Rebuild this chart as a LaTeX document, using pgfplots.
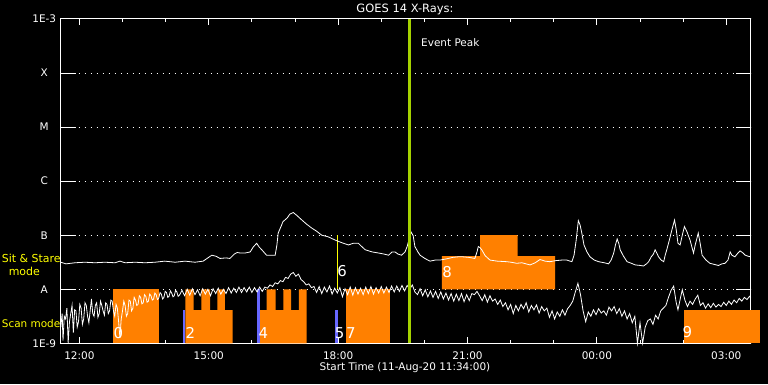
\documentclass[border=0pt]{standalone}
\usepackage{pgfplots}
\pgfplotsset{compat=1.18}
\usepackage{fontspec}
\setmainfont{DejaVu Sans}
\definecolor{scanorange}{RGB}{255,128,0}
\definecolor{bluemark}{RGB}{104,104,255}
\definecolor{peakgreen}{RGB}{165,210,0}
\definecolor{labyellow}{RGB}{255,255,0}

\pgfplotstableread{
x y
11.567 -7.50
11.69 -7.53
11.90 -7.51
12.13 -7.50
12.36 -7.51
12.59 -7.50
12.83 -7.51
12.94 -7.48
13.06 -7.51
13.29 -7.50
13.52 -7.51
13.75 -7.50
13.98 -7.48
14.22 -7.50
14.45 -7.48
14.68 -7.50
14.87 -7.48
14.96 -7.43
15.07 -7.37
15.17 -7.39
15.26 -7.43
15.40 -7.42
15.49 -7.43
15.59 -7.35
15.66 -7.32
15.73 -7.33
15.84 -7.33
15.96 -7.31
16.03 -7.22
16.11 -7.15
16.17 -7.22
16.23 -7.27
16.34 -7.37
16.44 -7.37
16.54 -7.37
16.58 -7.18
16.61 -6.96
16.68 -6.83
16.72 -6.75
16.82 -6.68
16.88 -6.61
16.96 -6.58
17.05 -6.64
17.16 -6.72
17.26 -6.79
17.39 -6.87
17.49 -6.92
17.62 -7.00
17.77 -7.03
17.93 -7.09
18.09 -7.14
18.24 -7.18
18.35 -7.15
18.47 -7.15
18.56 -7.22
18.63 -7.27
18.79 -7.31
18.94 -7.33
19.07 -7.35
19.17 -7.37
19.25 -7.31
19.32 -7.31
19.39 -7.35
19.47 -7.37
19.55 -7.31
19.60 -7.21
19.64 -7.09
19.69 -6.94
19.74 -7.01
19.78 -7.21
19.85 -7.31
19.90 -7.37
20.01 -7.43
20.13 -7.48
20.25 -7.46
20.36 -7.46
20.50 -7.44
20.66 -7.41
20.78 -7.40
20.89 -7.40
21.03 -7.41
21.17 -7.43
21.22 -7.31
21.25 -7.21
21.29 -7.23
21.33 -7.27
21.41 -7.38
21.52 -7.46
21.69 -7.48
21.91 -7.49
22.01 -7.50
22.14 -7.52
22.26 -7.51
22.45 -7.55
22.57 -7.51
22.68 -7.45
22.80 -7.48
22.91 -7.49
23.05 -7.47
23.19 -7.46
23.30 -7.46
23.42 -7.49
23.47 -7.37
23.52 -7.09
23.57 -6.73
23.61 -6.81
23.65 -6.96
23.70 -7.18
23.77 -7.31
23.84 -7.40
23.94 -7.46
24.04 -7.49
24.17 -7.51
24.27 -7.53
24.33 -7.46
24.39 -7.33
24.43 -7.18
24.47 -7.07
24.51 -7.16
24.54 -7.27
24.61 -7.38
24.70 -7.49
24.80 -7.52
24.89 -7.55
25.01 -7.56
25.08 -7.57
25.15 -7.53
25.20 -7.49
25.26 -7.40
25.31 -7.35
25.35 -7.27
25.40 -7.35
25.43 -7.40
25.49 -7.46
25.55 -7.49
25.58 -7.38
25.62 -7.27
25.68 -7.09
25.72 -6.96
25.80 -6.72
25.84 -6.90
25.88 -7.15
25.93 -7.18
25.98 -7.00
26.03 -6.84
26.09 -6.94
26.16 -7.09
26.21 -7.24
26.24 -7.33
26.28 -7.18
26.35 -6.96
26.39 -7.13
26.44 -7.37
26.53 -7.46
26.62 -7.52
26.72 -7.54
26.82 -7.56
26.90 -7.53
26.97 -7.52
27.04 -7.46
27.09 -7.31
27.13 -7.37
27.20 -7.40
27.27 -7.33
27.32 -7.29
27.39 -7.33
27.44 -7.37
27.51 -7.39
27.567 -7.40
}\longchan

\pgfplotstableread{
x y
11.57 -8.70
11.60 -8.45
11.62 -8.95
11.65 -8.50
11.68 -8.55
11.71 -8.35
11.74 -8.99
11.77 -8.60
11.80 -8.45
11.83 -8.30
11.86 -8.80
11.89 -8.38
11.92 -8.40
11.95 -8.70
11.98 -8.60
12.01 -8.28
12.04 -8.35
12.07 -8.65
12.10 -8.55
12.13 -8.25
12.16 -8.30
12.19 -8.50
12.22 -8.62
12.25 -8.40
12.28 -8.18
12.31 -8.45
12.34 -8.50
12.37 -8.30
12.40 -8.25
12.43 -8.52
12.46 -8.45
12.49 -8.22
12.52 -8.30
12.55 -8.40
12.58 -8.48
12.61 -8.25
12.64 -8.28
12.67 -8.45
12.70 -8.40
12.73 -8.20
12.76 -8.22
12.79 -8.40
12.82 -8.50
12.85 -8.28
12.88 -8.35
12.91 -8.60
12.94 -8.90
12.97 -8.55
13.00 -8.40
13.03 -8.22
13.06 -8.30
13.09 -8.50
13.12 -8.45
13.15 -8.20
13.18 -8.22
13.21 -8.40
13.24 -8.35
13.27 -8.15
13.30 -8.20
13.33 -8.30
13.36 -8.28
13.39 -8.12
13.42 -8.15
13.45 -8.27
13.48 -8.25
13.51 -8.10
13.54 -8.13
13.57 -8.24
13.60 -8.22
13.63 -8.09
13.66 -8.12
13.69 -8.20
13.72 -8.18
13.75 -8.07
13.78 -8.10
13.81 -8.19
13.84 -8.17
13.87 -8.06
13.90 -8.09
13.93 -8.18
13.96 -8.15
13.99 -8.04
14.02 -8.06
14.05 -8.15
14.08 -8.13
14.11 -8.03
14.14 -8.07
14.17 -8.14
14.20 -8.12
14.23 -8.02
14.26 -8.05
14.29 -8.13
14.32 -8.11
14.38 -8.02
14.44 -8.12
14.50 -8.00
14.56 -8.11
14.62 -7.99
14.68 -8.10
14.74 -8.01
14.80 -8.12
14.86 -7.99
14.92 -8.09
14.98 -8.00
15.04 -8.12
15.10 -7.99
15.16 -8.08
15.22 -7.98
15.28 -8.09
15.34 -8.00
15.40 -8.08
15.46 -7.97
15.52 -8.07
15.58 -7.98
15.64 -8.06
15.70 -7.96
15.76 -8.06
15.82 -7.97
15.88 -8.05
15.94 -7.96
16.00 -8.06
16.06 -7.97
16.12 -8.05
16.18 -7.96
16.24 -8.04
16.30 -7.96
16.36 -7.98
16.42 -7.92
16.48 -7.95
16.54 -7.88
16.60 -7.90
16.66 -7.84
16.72 -7.86
16.78 -7.78
16.84 -7.80
16.90 -7.72
16.96 -7.69
17.02 -7.76
17.08 -7.72
17.14 -7.82
17.20 -7.86
17.26 -7.92
17.32 -7.90
17.38 -7.97
17.44 -7.95
17.50 -8.06
17.56 -7.95
17.62 -8.08
17.68 -7.96
17.74 -8.05
17.80 -7.94
17.86 -8.09
17.92 -7.98
17.98 -8.07
18.04 -7.97
18.10 -8.14
18.16 -7.99
18.22 -8.10
18.28 -7.96
18.34 -8.11
18.40 -7.97
18.46 -8.09
18.52 -7.98
18.58 -8.10
18.64 -7.96
18.70 -8.08
18.76 -7.95
18.82 -8.09
18.88 -7.97
18.94 -8.07
19.00 -7.95
19.06 -8.07
19.12 -7.96
19.18 -8.06
19.24 -7.94
19.30 -8.05
19.36 -7.94
19.42 -8.04
19.48 -7.93
19.54 -8.03
19.60 -7.93
19.66 -8.00
19.72 -7.92
19.78 -8.05
19.84 -8.10
19.90 -7.99
19.96 -8.12
20.02 -8.01
20.08 -8.14
20.14 -8.03
20.20 -8.15
20.26 -8.04
20.32 -8.17
20.38 -8.05
20.44 -8.18
20.50 -8.07
20.56 -8.20
20.62 -8.08
20.68 -8.22
20.74 -8.09
20.80 -8.21
20.86 -8.08
20.92 -8.23
20.98 -8.10
21.04 -8.21
21.10 -8.08
21.16 -8.10
21.22 -8.04
21.28 -8.12
21.34 -8.21
21.40 -8.10
21.46 -8.24
21.52 -8.12
21.58 -8.22
21.64 -8.18
21.70 -8.28
21.76 -8.20
21.82 -8.32
21.88 -8.25
21.94 -8.38
22.00 -8.28
22.06 -8.45
22.12 -8.30
22.18 -8.40
22.24 -8.28
22.30 -8.36
22.36 -8.25
22.42 -8.42
22.48 -8.30
22.54 -8.38
22.60 -8.29
22.66 -8.44
22.72 -8.32
22.78 -8.40
22.84 -8.35
22.90 -8.52
22.96 -8.40
23.02 -8.55
23.08 -8.42
23.14 -8.50
23.20 -8.38
23.26 -8.48
23.32 -8.36
23.38 -8.30
23.44 -8.22
23.50 -8.05
23.56 -7.89
23.62 -8.10
23.68 -8.40
23.74 -8.60
23.80 -8.42
23.86 -8.50
23.92 -8.38
23.98 -8.47
24.04 -8.36
24.10 -8.44
24.16 -8.40
24.22 -8.48
24.28 -8.33
24.34 -8.40
24.40 -8.32
24.46 -8.45
24.52 -8.36
24.58 -8.50
24.64 -8.40
24.70 -8.55
24.76 -8.45
24.82 -8.62
24.88 -8.50
24.94 -9.00
25.00 -8.62
25.06 -9.00
25.12 -8.70
25.18 -8.58
25.24 -8.55
25.30 -8.65
25.36 -8.48
25.42 -8.55
25.48 -8.40
25.54 -8.35
25.60 -8.30
25.66 -8.15
25.72 -8.02
25.78 -7.94
25.84 -8.25
25.88 -8.38
25.94 -8.15
25.98 -8.01
26.04 -8.20
26.10 -8.32
26.16 -8.22
26.22 -8.28
26.28 -8.18
26.34 -8.11
26.40 -8.30
26.46 -8.25
26.52 -8.35
26.58 -8.27
26.64 -8.34
26.70 -8.26
26.76 -8.33
26.82 -8.28
26.88 -8.32
26.94 -8.24
27.00 -8.30
27.06 -8.22
27.12 -8.28
27.18 -8.20
27.24 -8.25
27.30 -8.17
27.36 -8.22
27.42 -8.15
27.48 -8.19
27.54 -8.13
27.567 -8.16
}\shortchan

\begin{document}
\begin{tikzpicture}[x=1bp,y=1bp]
\fill[black] (0,0) rectangle (768,384);
\useasboundingbox (0,0) rectangle (768,384);
\begin{axis}[
  at={(60.7bp,40.7bp)}, anchor=south west,
  scale only axis, width=690bp, height=324.3bp,
  xmin=11.5667, xmax=27.5667, ymin=-9, ymax=-3,
  clip=false,
  axis line style={white, line width=1bp},
  xtick={12,15,18,21,24,27},
  xticklabels={12:00,15:00,18:00,21:00,00:00,03:00},
  minor x tick num=2,
  major tick length=6bp, minor tick length=3.3bp,
  tick align=inside,
  tick style={white, line width=1bp},
  ytick={-9,-8,-7,-6,-5,-4,-3},
  yticklabels={1E-9,A,B,C,M,X,1E-3},
  ytick style={draw=none},
  ymajorgrids,
  major grid style={white, line width=1bp, dash pattern=on 1bp off 5bp},
  ticklabel style={white, font=\fontsize{10.5}{12}\selectfont},
  xticklabel style={anchor=center, yshift=-12bp},
  yticklabel style={anchor=center, xshift=-16.5bp},
]
% scan-mode / sit-and-stare coverage blocks
\addplot[fill=scanorange, draw=none] coordinates {(12.779,-9) (12.779,-8) (13.846,-8) (13.846,-9)} -- cycle;
\addplot[fill=scanorange, draw=none] coordinates {(14.456,-9) (14.456,-8) (14.65,-8) (14.65,-8.384) (14.827,-8.384) (14.827,-8) (15.029,-8) (15.029,-8.384) (15.198,-8.384) (15.198,-8) (15.376,-8) (15.376,-8.384) (15.555,-8.384) (15.555,-9)} -- cycle;
\addplot[fill=scanorange, draw=none] coordinates {(16.181,-9) (16.181,-8.384) (16.343,-8.384) (16.343,-8) (16.552,-8) (16.552,-8.384) (16.728,-8.384) (16.728,-8) (16.907,-8) (16.907,-8.384) (17.092,-8.384) (17.092,-8) (17.271,-8) (17.271,-9)} -- cycle;
\addplot[fill=scanorange, draw=none] coordinates {(18.182,-9) (18.182,-8) (19.202,-8) (19.202,-9)} -- cycle;
\addplot[fill=scanorange, draw=none] coordinates {(20.408,-8) (20.408,-7.385) (21.29,-7.385) (21.29,-7) (22.16,-7) (22.16,-7.385) (23.03,-7.385) (23.03,-8)} -- cycle;
\addplot[fill=scanorange, draw=none] coordinates {(26.02,-9) (26.02,-8.384) (27.79,-8.384) (27.79,-9)} -- cycle;
% blue markers
\addplot[fill=bluemark, draw=none] coordinates {(14.41,-9) (14.41,-8.384) (14.456,-8.384) (14.456,-9)} -- cycle;
\addplot[fill=bluemark, draw=none] coordinates {(16.125,-9) (16.125,-8) (16.181,-8) (16.181,-9)} -- cycle;
\addplot[fill=bluemark, draw=none] coordinates {(17.934,-9) (17.934,-8.384) (17.99,-8.384) (17.99,-9)} -- cycle;
% yellow marker 6
\addplot[labyellow, line width=1bp] coordinates {(17.98,-7) (17.98,-8)};
% GOES curves
\addplot[white, line width=0.8bp] table[x=x, y=y] {\longchan};
\addplot[white, line width=0.8bp] table[x=x, y=y] {\shortchan};
% event peak
\addplot[peakgreen, line width=2.6bp] coordinates {(19.66,-9) (19.66,-3)};
% left-side and right-side level ticks
\draw[white, line width=1bp] (rel axis cs:0,0.16667) -- ([xshift=15bp]rel axis cs:0,0.16667);
\draw[white, line width=1bp] (rel axis cs:0,0.33333) -- ([xshift=15bp]rel axis cs:0,0.33333);
\draw[white, line width=1bp] (rel axis cs:0,0.5) -- ([xshift=15bp]rel axis cs:0,0.5);
\draw[white, line width=1bp] (rel axis cs:0,0.66667) -- ([xshift=15bp]rel axis cs:0,0.66667);
\draw[white, line width=1bp] (rel axis cs:0,0.83333) -- ([xshift=15bp]rel axis cs:0,0.83333);
\draw[white, line width=1bp] (rel axis cs:1,0.16667) -- ([xshift=-15bp]rel axis cs:1,0.16667);
\draw[white, line width=1bp] (rel axis cs:1,0.33333) -- ([xshift=-15bp]rel axis cs:1,0.33333);
\draw[white, line width=1bp] (rel axis cs:1,0.5) -- ([xshift=-15bp]rel axis cs:1,0.5);
\draw[white, line width=1bp] (rel axis cs:1,0.66667) -- ([xshift=-15bp]rel axis cs:1,0.66667);
\draw[white, line width=1bp] (rel axis cs:1,0.83333) -- ([xshift=-15bp]rel axis cs:1,0.83333);
% block numbers
\node[white, inner sep=0, font=\fontsize{15}{15}\selectfont] at (axis cs:12.902,-8.815) {0};
\node[white, inner sep=0, font=\fontsize{15}{15}\selectfont] at (axis cs:14.576,-8.815) {2};
\node[white, inner sep=0, font=\fontsize{15}{15}\selectfont] at (axis cs:16.265,-8.815) {4};
\node[white, inner sep=0, font=\fontsize{15}{15}\selectfont] at (axis cs:18.036,-8.815) {5};
\node[white, inner sep=0, font=\fontsize{15}{15}\selectfont] at (axis cs:18.293,-8.815) {7};
\node[white, inner sep=0, font=\fontsize{15}{15}\selectfont] at (axis cs:18.095,-7.662) {6};
\node[white, inner sep=0, font=\fontsize{15}{15}\selectfont] at (axis cs:20.529,-7.675) {8};
\node[white, inner sep=0, font=\fontsize{15}{15}\selectfont] at (axis cs:26.10,-8.80) {9};
\end{axis}
\node[white, inner sep=0, font=\fontsize{11.5}{13}\selectfont] at (405,374.7) {GOES 14 X-Rays:};
\node[white, inner sep=0, font=\fontsize{10.5}{12}\selectfont] at (450.3,341.5) {Event Peak};
\node[white, inner sep=0, font=\fontsize{10.5}{12}\selectfont] at (405,16.5) {Start Time (11-Aug-20 11:34:00)};
\node[labyellow, inner sep=0, anchor=west, font=\fontsize{11}{12}\selectfont] at (1.7,126) {Sit \& Stare};
\node[labyellow, inner sep=0, font=\fontsize{11}{12}\selectfont] at (24.3,113) {mode};
\node[labyellow, inner sep=0, anchor=west, font=\fontsize{10.5}{12}\selectfont] at (1.7,60.7) {Scan mode};
\end{tikzpicture}
\end{document}
